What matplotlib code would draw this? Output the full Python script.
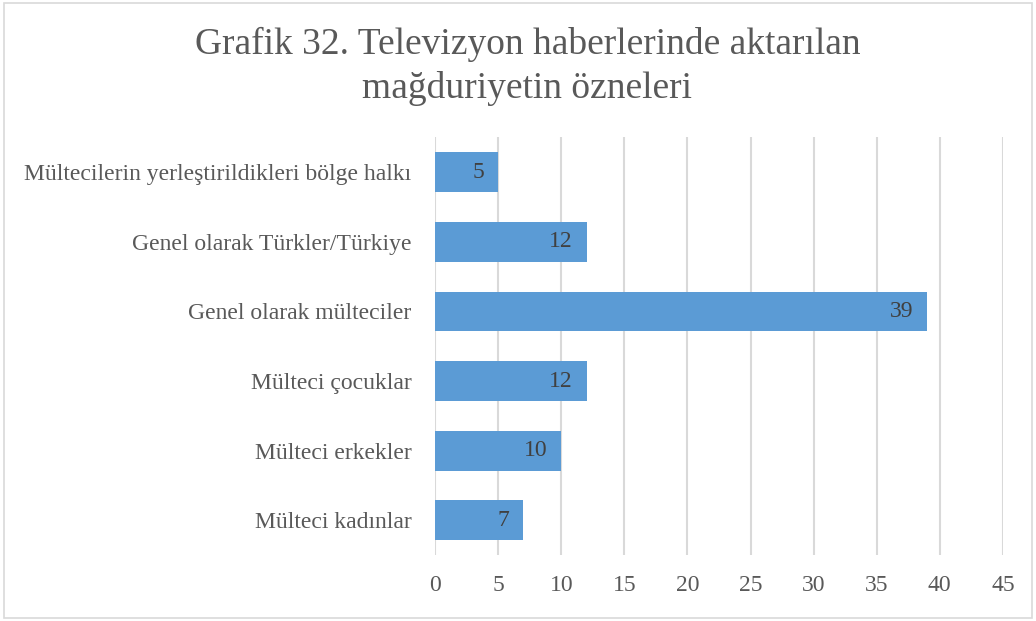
import matplotlib
matplotlib.use("Agg")
import matplotlib.pyplot as plt
from matplotlib.patches import Rectangle

categories = ["Mülteci kadınlar", "Mülteci erkekler", "Mülteci çocuklar",
              "Genel olarak mülteciler", "Genel olarak Türkler/Türkiye",
              "Mültecilerin yerleştirildikleri bölge halkı"]
values = [7, 10, 12, 39, 12, 5]
xticks = [0, 5, 10, 15, 20, 25, 30, 35, 40, 45]
title_lines = ["Grafik 32. Televizyon haberlerinde aktarılan", "mağduriyetin özneleri"]

plt.rcParams['font.family'] = ['Liberation Serif', 'DejaVu Serif']

fig = plt.figure(figsize=(10.36, 6.21), dpi=100)
fig.patches.append(Rectangle((0.004, 0.005), 0.992, 0.99, transform=fig.transFigure,
                             fill=False, edgecolor='#D9D9D9', linewidth=1.2))
ax = fig.add_axes([0.42, 0.106, 0.548, 0.673])

y = list(range(len(categories)))
bars = ax.barh(y, values, height=0.57, color='#5B9BD5', zorder=3)
for b, v in zip(bars, values):
    ax.text(b.get_width() - 1.1, b.get_y() + b.get_height() / 2, str(v),
            ha='right', va='center', fontsize=17, color='#404040', zorder=4)

ax.set_xlim(0, 45)
ax.set_ylim(-0.5, len(categories) - 0.5)
ax.set_xticks(xticks)
ax.set_xticklabels([str(t) for t in xticks], fontsize=17, color='#595959')
ax.set_yticks(y)
ax.set_yticklabels(categories, fontsize=17, color='#595959')
ax.grid(axis='x', color='#D9D9D9', linewidth=1.5, zorder=0)
for s in ax.spines.values():
    s.set_visible(False)
ax.tick_params(axis='both', length=0)
ax.tick_params(axis='x', pad=14)
ax.tick_params(axis='y', pad=17)

fig.text(0.509, 0.928, title_lines[0], ha='center', va='center', fontsize=27, color='#595959')
fig.text(0.509, 0.858, title_lines[1], ha='center', va='center', fontsize=27, color='#595959')

fig.savefig("out.png", dpi=100)
